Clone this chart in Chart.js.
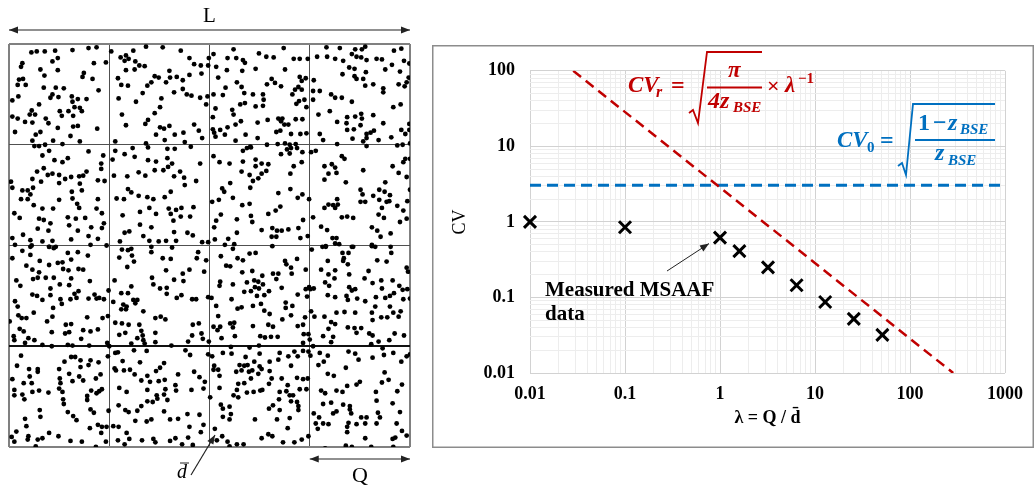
<!DOCTYPE html>
<html>
<head>
<meta charset="utf-8">
<script src="https://cdn.jsdelivr.net/npm/chart.js@4.4.1/dist/chart.umd.min.js"></script>
<style>
  html, body { margin: 0; padding: 0; background: #fff; }
  body { width: 1035px; height: 491px; position: relative; overflow: hidden; }
  #left { position: absolute; left: 0; top: 0; width: 430px; height: 491px; }
  #right { position: absolute; left: 432px; top: 45px; width: 602px; height: 403px; }
</style>
</head>
<body>
<div id="left"><canvas id="grid-chart"></canvas></div>
<div id="right"><canvas id="cv-chart"></canvas></div>
<script>
// ---- right panel data ----
const lambda = [0.01, 0.1, 1, 1.6, 3.2, 6.4, 12.8, 25.6, 51.2];
const cvMeasured = [1.0, 0.85, 0.62, 0.41, 0.25, 0.145, 0.087, 0.052, 0.032];
const lambdaRandom = [0.0285, 285];
const cvRandom = [100, 0.01];
const lambdaFlat = [0.01, 1000];
const cvFlat = [3.05, 3.05];
const xTickLabels = ['0.01', '0.1', '1', '10', '100', '1000'];
const yTickLabels = ['0.01', '0.1', '1', '10', '100'];

// ---- left panel: particle positions, one list per quadrant (0-600 each) ----
const dotsNW = [[67,25],[83,22],[107,22],[138,20],[190,18],[238,12],[262,10],[40,57],[36,68],[130,52],[146,42],[254,57],[290,55],[94,76],[106,94],[146,78],[224,86],[220,98],[30,106],[42,104],[26,122],[50,122],[250,104],[104,130],[140,130],[164,132],[268,138],[130,150],[124,160],[148,158],[188,156],[206,164],[232,164],[28,156],[10,168],[90,180],[190,172],[196,188],[212,190],[218,200],[68,198],[62,210],[78,210],[152,200],[158,214],[178,200],[192,214],[10,216],[26,222],[48,232],[70,234],[110,222],[118,236],[192,246],[206,244],[146,250],[264,252],[18,262],[80,270],[94,262],[184,274],[212,290],[70,288],[132,288],[160,298],[108,300],[90,304],[76,304],
  [306,22],[372,20],[410,8],[460,10],[514,20],[540,42],[598,42],[334,40],[350,34],[358,44],[346,50],[378,52],[390,64],[406,66],[554,60],[574,64],[596,64],[350,78],[376,76],[480,80],[576,88],[436,96],[448,100],[482,100],[502,98],[426,114],[470,114],[520,108],[540,92],[326,102],[336,122],[356,124],[414,124],[400,146],[494,144],[520,134],[532,150],[546,154],[572,160],[594,156],[328,162],[380,172],[456,162],[452,188],[436,206],[338,210],[590,180],[416,226],[408,238],[350,242],[452,248],[464,252],[480,244],[554,240],[440,270],[496,270],[522,264],[568,258],[318,290],[410,296],[466,286],[526,292],[578,280],
  [100,332],[120,318],[238,320],[282,332],[136,346],[160,352],[176,340],[276,356],[104,370],[84,380],[116,390],[130,386],[150,390],[168,402],[186,396],[210,394],[222,392],[232,380],[276,372],[70,402],[96,410],[150,414],[212,416],[266,406],[286,408],[6,410],[10,428],[40,436],[56,436],[72,428],[64,448],[188,440],[218,436],[36,462],[56,462],[74,480],[150,464],[190,460],[204,476],[266,462],[132,490],[100,490],[210,488],[262,490],[16,504],[32,518],[90,520],[104,524],[124,534],[176,516],[200,520],[228,518],[278,504],[284,534],[42,568],[86,550],[118,556],[180,540],[206,556],[246,546],[278,548],[10,578],[64,584],[100,588],[130,586],[186,582],[238,572],[266,580],[18,598],[68,600],[120,604],[140,604],[244,598],[292,600],
  [318,318],[346,328],[370,310],[376,336],[416,308],[474,312],[496,312],[544,306],[310,344],[416,346],[440,350],[474,340],[488,356],[572,356],[436,376],[462,376],[476,366],[314,392],[354,394],[388,382],[408,392],[494,394],[512,380],[524,398],[560,408],[356,432],[366,442],[388,452],[414,456],[432,462],[484,440],[526,420],[322,460],[344,462],[466,456],[420,488],[478,490],[500,494],[516,488],[552,486],[340,510],[392,500],[440,506],[484,506],[514,514],[542,514],[346,562],[360,558],[392,538],[426,546],[492,526],[534,562],[494,560],[402,572],[420,586],[448,588],[470,586],[500,586],[332,588],[550,570],[578,590],[596,590],[488,606]];
const dotsNE = [[72,16],[12,30],[54,42],[80,42],[100,48],[106,56],[148,28],[170,38],[192,40],[222,12],[252,44],[270,44],[294,44],[20,68],[52,78],[98,80],[138,74],[226,76],[26,100],[82,114],[96,128],[104,146],[48,130],[12,150],[40,152],[130,150],[160,150],[162,166],[186,104],[172,120],[196,116],[214,126],[248,150],[270,98],[288,102],[276,110],[266,128],[256,136],[276,136],[284,166],[268,170],[260,178],[290,188],[92,180],[106,176],[138,186],[160,184],[18,192],[68,196],[72,210],[10,218],[78,240],[94,230],[144,234],[174,226],[206,222],[214,230],[218,222],[224,240],[236,240],[258,224],[278,224],[54,248],[32,256],[10,254],[18,276],[46,270],[108,270],[144,280],[200,262],[212,258],[244,268],[272,268],[290,266],[78,288],[122,306],[204,298],[226,296],[240,300],[258,298],[172,300],[14,264],
  [350,10],[390,12],[436,16],[456,16],[466,8],[552,20],[574,14],[322,38],[352,38],[376,44],[400,50],[426,30],[440,38],[454,40],[470,48],[500,44],[516,46],[546,62],[582,50],[598,58],[418,70],[434,74],[398,90],[468,84],[526,76],[570,82],[596,100],[312,108],[330,140],[440,104],[434,96],[460,104],[466,124],[490,120],[520,132],[520,144],[566,120],[584,126],[590,114],[310,140],[310,166],[364,150],[376,160],[426,172],[396,160],[326,210],[360,200],[412,218],[436,216],[454,208],[456,222],[490,212],[550,188],[572,180],[382,232],[410,236],[412,256],[432,254],[452,242],[470,268],[482,264],[492,258],[520,236],[574,256],[598,256],[340,286],[382,298],[428,282],[460,290],[470,280],[506,286],[544,278],[562,302],[578,300],[600,296],[586,268],[598,238],[330,268],[470,304],[318,318],[304,322],
  [12,334],[100,318],[112,310],[124,308],[214,328],[232,314],[244,310],[240,326],[262,310],[278,322],[30,352],[60,356],[100,350],[138,344],[156,356],[176,358],[170,378],[138,364],[96,380],[120,390],[130,408],[146,400],[156,386],[242,386],[276,352],[252,364],[62,414],[38,430],[44,440],[122,428],[242,432],[206,444],[278,448],[264,458],[298,462],[70,458],[28,464],[8,470],[98,480],[120,476],[212,484],[34,508],[124,512],[176,506],[198,496],[20,526],[82,522],[128,530],[280,524],[14,546],[82,562],[156,554],[188,548],[202,556],[216,556],[236,552],[266,548],[186,574],[200,574],[16,582],[56,580],[46,598],[74,596],[272,578],[294,572],
  [396,334],[404,342],[344,364],[366,358],[376,368],[356,386],[344,404],[380,384],[460,376],[408,412],[548,364],[586,342],[580,352],[566,384],[590,396],[600,342],[526,412],[452,434],[458,448],[466,470],[508,434],[524,440],[540,450],[600,434],[310,516],[344,488],[356,478],[370,480],[382,462],[384,478],[376,488],[452,470],[490,452],[508,464],[530,470],[516,488],[538,468],[562,482],[580,496],[592,468],[396,516],[412,514],[430,518],[506,508],[522,518],[570,530],[590,520],[334,544],[352,554],[486,546],[502,556],[512,574],[542,564],[368,578],[380,578],[376,594],[388,596],[348,604],[430,604],[486,598],[496,604]];
const dotsSW = [[40,16],[64,4],[120,4],[134,8],[176,22],[206,20],[236,30],[10,38],[64,28],[92,46],[52,60],[70,72],[90,80],[120,58],[146,52],[160,50],[162,70],[178,74],[186,42],[208,70],[222,72],[72,100],[86,96],[110,96],[134,96],[186,98],[22,104],[34,120],[242,106],[124,128],[152,116],[180,118],[70,146],[84,150],[124,148],[208,136],[196,144],[202,156],[256,146],[262,158],[284,160],[298,134],[100,162],[18,166],[26,182],[154,160],[158,174],[184,160],[238,158],[270,156],[132,186],[28,208],[38,216],[52,216],[74,200],[130,212],[234,214],[280,216],[296,210],[2,226],[114,226],[170,236],[186,234],[32,248],[44,256],[128,258],[168,262],[180,258],[222,252],[244,256],[266,250],[14,270],[16,282],[58,276],[48,290],[76,282],[100,296],[128,300],[176,296],[190,298],[216,278],[240,298],[294,290],[300,300],
  [338,12],[356,14],[366,10],[426,4],[426,20],[330,36],[368,30],[374,48],[460,38],[484,40],[566,20],[562,38],[590,44],[354,64],[470,74],[520,84],[540,72],[584,78],[428,96],[494,102],[522,106],[316,104],[432,116],[336,142],[356,142],[366,122],[452,128],[472,126],[472,144],[502,156],[516,148],[548,160],[560,160],[596,154],[312,168],[342,176],[352,182],[372,162],[384,162],[378,172],[336,190],[350,190],[402,196],[438,216],[454,212],[468,220],[318,230],[338,232],[358,236],[390,236],[396,254],[400,268],[402,282],[406,292],[550,236],[568,232],[548,268],[576,262],[580,278],[598,286],[330,266],[348,260],[384,276],[438,260],[366,292],[438,288],[486,298],[536,286],
  [36,328],[186,332],[198,332],[166,346],[214,342],[244,342],[268,348],[296,330],[24,358],[60,368],[86,368],[86,376],[150,368],[180,382],[214,362],[238,356],[62,390],[210,390],[10,398],[44,410],[68,410],[152,396],[190,404],[222,402],[260,396],[274,384],[16,430],[70,436],[90,432],[118,438],[154,410],[150,426],[160,436],[246,432],[270,434],[40,444],[16,446],[234,448],[234,460],[262,440],[278,428],[46,458],[162,458],[164,472],[176,496],[92,490],[244,488],[254,498],[298,492],[94,510],[192,508],[202,520],[48,516],[52,538],[266,534],[278,540],[292,540],[22,554],[58,568],[86,578],[100,574],[120,558],[148,568],[242,544],[276,558],[8,570],[16,584],[56,578],[80,598],[184,582],[218,584],[260,600],[290,584],
  [318,320],[326,318],[374,312],[412,314],[528,312],[542,326],[596,324],[340,344],[392,348],[464,350],[452,364],[316,366],[320,372],[344,372],[362,370],[376,384],[414,388],[440,374],[506,384],[554,376],[570,392],[586,406],[330,424],[352,436],[396,402],[422,406],[448,404],[466,400],[498,416],[414,430],[442,446],[464,444],[468,428],[444,456],[474,460],[500,432],[546,430],[414,464],[430,466],[582,426],[384,492],[328,476],[348,490],[358,496],[396,478],[426,518],[464,494],[482,518],[506,516],[534,502],[570,504],[378,522],[412,524],[328,540],[352,558],[540,540],[582,534],[574,556],[312,538],[326,580],[346,592],[360,576],[398,580],[432,576],[438,586],[482,582],[498,574],[518,592],[536,572],[550,594]];
const dotsSE = [[70,10],[120,24],[138,22],[188,2],[34,32],[84,38],[100,44],[50,60],[62,62],[226,46],[262,40],[230,56],[244,66],[246,84],[288,72],[98,80],[128,76],[158,90],[190,84],[206,84],[200,100],[32,108],[30,120],[70,116],[112,110],[134,104],[146,108],[160,116],[136,124],[148,128],[178,136],[104,138],[124,136],[142,150],[164,148],[216,126],[298,124],[288,130],[264,146],[292,152],[6,156],[66,160],[130,180],[154,174],[228,170],[228,186],[248,180],[96,184],[84,188],[20,180],[164,194],[180,204],[244,208],[218,220],[26,210],[286,214],[62,232],[74,230],[70,244],[12,242],[32,242],[24,252],[36,276],[76,270],[130,240],[176,236],[190,242],[264,240],[280,236],[152,270],[166,274],[184,272],[204,272],[148,298],[282,264],[296,264],[300,280],[280,290],[64,302],[120,304],
  [306,12],[338,4],[348,2],[398,22],[402,38],[416,22],[426,4],[486,2],[542,4],[544,22],[354,46],[400,46],[414,56],[418,86],[476,76],[502,44],[530,48],[590,66],[594,78],[334,72],[356,86],[376,74],[374,98],[464,98],[514,104],[516,128],[548,104],[302,130],[346,110],[358,120],[418,124],[426,134],[436,130],[488,112],[568,120],[578,132],[592,130],[312,128],[354,148],[376,154],[410,150],[414,162],[442,158],[498,154],[526,156],[540,150],[552,142],[580,160],[600,158],[466,166],[496,182],[540,182],[304,196],[314,212],[344,212],[380,200],[404,198],[436,200],[486,200],[550,200],[572,196],[364,228],[356,248],[376,234],[414,244],[434,246],[454,246],[488,222],[514,214],[532,214],[566,212],[340,270],[370,272],[364,288],[440,260],[478,262],[488,268],[484,294],[506,286],[518,306],[538,282],[554,262],[582,268],[310,300],
  [8,330],[40,320],[66,322],[150,322],[210,320],[254,316],[264,330],[280,314],[296,316],[108,332],[134,346],[180,346],[206,340],[236,330],[14,358],[90,356],[104,358],[114,356],[118,376],[150,360],[156,368],[244,358],[12,370],[26,370],[30,388],[80,376],[96,372],[128,372],[146,382],[180,374],[186,396],[216,396],[262,394],[280,398],[294,396],[124,396],[104,410],[86,412],[178,412],[234,416],[30,424],[82,430],[72,446],[112,438],[132,436],[152,432],[158,430],[210,436],[230,434],[240,446],[250,446],[270,428],[290,428],[2,452],[34,474],[40,486],[60,480],[86,452],[190,476],[208,458],[178,486],[210,490],[244,464],[262,466],[266,478],[40,510],[60,518],[64,502],[136,518],[202,518],[266,490],[240,514],[16,546],[234,544],[38,568],[22,580],[54,584],[156,574],[176,562],[188,568],[220,586],[254,586],[276,578],[296,568],[82,592],[102,592],[60,598],
  [330,320],[354,328],[342,346],[326,356],[416,316],[436,322],[446,340],[488,334],[522,326],[550,320],[574,346],[590,330],[600,324],[302,328],[354,382],[372,388],[408,364],[412,418],[440,414],[450,406],[524,378],[536,400],[576,414],[334,432],[346,440],[380,432],[398,436],[498,436],[516,408],[340,472],[364,468],[400,474],[420,478],[500,462],[548,470],[312,500],[328,512],[370,500],[380,494],[420,488],[424,500],[416,528],[454,512],[470,512],[504,498],[562,434],[412,540],[440,532],[466,530],[500,530],[510,512],[560,530],[570,496],[576,552],[590,566],[318,530],[324,546],[340,530],[356,532],[412,556],[466,574],[548,576],[556,572],[346,604],[408,596],[426,600],[484,600],[550,600]];

Chart.defaults.font.family = '"Liberation Serif", "Times New Roman", serif';
Chart.defaults.color = '#000';

const red = '#c00000';
const blue = '#0070c0';

function placeDots(list, dx, dy) {
  return list.map(p => ({ x: p[0] + dx, y: p[1] + dy }));
}
const allDots = [].concat(
  placeDots(dotsNW, 0, 0), placeDots(dotsNE, 600, 0),
  placeDots(dotsSW, 0, 600), placeDots(dotsSE, 600, 600));

function arrowHead(ctx, fx, fy, tx, ty, len, half) {
  const a = Math.atan2(ty - fy, tx - fx);
  const bx = tx - len * Math.cos(a), by = ty - len * Math.sin(a);
  ctx.beginPath();
  ctx.moveTo(tx, ty);
  ctx.lineTo(bx + half * Math.sin(a), by - half * Math.cos(a));
  ctx.lineTo(bx - half * Math.sin(a), by + half * Math.cos(a));
  ctx.closePath();
  ctx.fill();
}
function arrowLine(ctx, fx, fy, tx, ty, both) {
  ctx.beginPath(); ctx.moveTo(fx, fy); ctx.lineTo(tx, ty); ctx.stroke();
  arrowHead(ctx, fx, fy, tx, ty, 9, 3.5);
  if (both) arrowHead(ctx, tx, ty, fx, fy, 9, 3.5);
}

// L, Q and d-bar labels around the sampling grid
const sketchLabels = {
  id: 'sketchLabels',
  afterDraw(chart) {
    const ctx = chart.ctx, a = chart.chartArea, xs = chart.scales.x;
    ctx.save();
    ctx.strokeStyle = '#222'; ctx.fillStyle = '#222'; ctx.lineWidth = 1.2;
    arrowLine(ctx, a.left, 30, a.right, 30, true);
    const q0 = xs.getPixelForValue(900);
    arrowLine(ctx, q0, a.bottom + 12, a.right, a.bottom + 12, true);
    arrowLine(ctx, 191, 475, 215, 435, false);
    ctx.fillStyle = '#000';
    ctx.font = '21px "Liberation Serif"';
    ctx.textAlign = 'center'; ctx.textBaseline = 'middle';
    ctx.fillText('L', (a.left + a.right) / 2, 16);
    ctx.font = '22px "Liberation Serif"';
    ctx.fillText('Q', (q0 + a.right) / 2, 476);
    ctx.font = 'italic 20px "Liberation Serif"';
    ctx.textAlign = 'left'; ctx.textBaseline = 'alphabetic';
    ctx.fillText('d', 177, 478);
    ctx.lineWidth = 1;
    ctx.beginPath(); ctx.moveTo(180, 463); ctx.lineTo(189, 463); ctx.stroke();
    ctx.restore();
  }
};

function gridColor(v, horizontal) {
  if (v === 0 || v === 1200) return '#808080';
  if (horizontal && v === 900) return '#111';
  return '#505050';
}
function gridWidth(v, horizontal) {
  if (v === 0 || v === 1200) return 2;
  if (horizontal && v === 900) return 2;
  return 1;
}

new Chart(document.getElementById('grid-chart'), {
  type: 'scatter',
  data: {
    datasets: [{
      data: allDots,
      pointRadius: 2.4,
      pointHoverRadius: 2.4,
      pointBackgroundColor: '#000',
      pointBorderWidth: 0
    }]
  },
  options: {
    responsive: true,
    maintainAspectRatio: false,
    animation: false,
    events: [],
    layout: { padding: { left: 9, top: 44, right: 20, bottom: 44 } },
    plugins: { legend: { display: false }, tooltip: { enabled: false } },
    scales: {
      x: {
        min: 0, max: 1200,
        ticks: { display: false, stepSize: 300 },
        border: { display: false },
        grid: { drawTicks: false, color: c => gridColor(c.tick.value, false), lineWidth: c => gridWidth(c.tick.value, false) }
      },
      y: {
        min: 0, max: 1200, reverse: true,
        ticks: { display: false, stepSize: 300 },
        border: { display: false },
        grid: { drawTicks: false, color: c => gridColor(c.tick.value, true), lineWidth: c => gridWidth(c.tick.value, true) }
      }
    }
  },
  plugins: [sketchLabels]
});

// ---- right panel ----
function logGrid(labels) {
  const out = [];
  labels.forEach((lab, i) => {
    const v = Number(lab);
    out.push({ value: v, label: lab, major: true });
    if (i < labels.length - 1) {
      for (let k = 2; k <= 9; k++) out.push({ value: v * k, label: '', major: false });
    }
  });
  return out;
}
const xGrid = logGrid(xTickLabels);
const yGrid = logGrid(yTickLabels);

function put(ctx, s, px, py, size, color, style) {
  ctx.font = (style || 'bold italic') + ' ' + size + 'px "Liberation Serif"';
  ctx.fillStyle = color;
  ctx.textAlign = 'left';
  ctx.textBaseline = 'alphabetic';
  ctx.fillText(s, px, py);
}
function poly(ctx, pts, color, w) {
  ctx.strokeStyle = color; ctx.lineWidth = w;
  ctx.beginPath();
  pts.forEach((p, i) => i ? ctx.lineTo(p[0], p[1]) : ctx.moveTo(p[0], p[1]));
  ctx.stroke();
}

const cvAnnotations = {
  id: 'cvAnnotations',
  afterDraw(chart) {
    const ctx = chart.ctx, xs = chart.scales.x, ys = chart.scales.y;
    ctx.save();
    ctx.strokeStyle = '#8c8c8c'; ctx.lineWidth = 1.5;
    ctx.strokeRect(0.75, 0.75, chart.width - 1.5, chart.height - 1.5);

    // measured data note
    put(ctx, 'Measured MSAAF', 113, 251, 21, '#000', 'bold');
    put(ctx, 'data', 113, 275, 21, '#000', 'bold');
    const px = xs.getPixelForValue(lambda[2]), py = ys.getPixelForValue(cvMeasured[2]);
    ctx.strokeStyle = '#222'; ctx.fillStyle = '#222'; ctx.lineWidth = 1;
    arrowLine(ctx, 235, 226, px - 11, py + 6, false);

    // CV_r formula
    put(ctx, 'CV', 196, 47, 23, red);
    put(ctx, 'r', 224, 52, 16, red);
    put(ctx, '=', 239, 48, 24, red, 'bold');
    poly(ctx, [[257, 68], [261, 65], [266, 78], [275, 7], [330, 7]], red, 1.8);
    put(ctx, 'π', 296, 32, 23, red);
    poly(ctx, [[275, 42.5], [330, 42.5]], red, 2);
    put(ctx, '4z', 276, 63, 24, red);
    put(ctx, 'BSE', 301, 67, 15, red);
    put(ctx, '×', 335, 48, 22, red, 'bold');
    put(ctx, 'λ', 353, 47, 23, red);
    put(ctx, '−1', 366, 38, 15, red, 'bold');

    // CV_0 formula
    put(ctx, 'CV', 405, 102, 23, blue);
    put(ctx, '0', 435, 107, 15, blue, 'bold');
    put(ctx, '=', 448, 103, 24, blue, 'bold');
    poly(ctx, [[466, 121], [470, 118], [474, 130], [481, 59], [563, 59]], blue, 1.8);
    put(ctx, '1', 486, 85, 24, blue, 'bold');
    put(ctx, '−', 501, 85, 24, blue, 'bold');
    put(ctx, 'z', 516, 85, 24, blue);
    put(ctx, 'BSE', 528, 89, 15, blue);
    poly(ctx, [[483, 95], [563, 95]], blue, 2);
    put(ctx, 'z', 503, 115, 24, blue);
    put(ctx, 'BSE', 516, 120, 15, blue);
    ctx.restore();
  }
};

new Chart(document.getElementById('cv-chart'), {
  type: 'scatter',
  data: {
    datasets: [
      {
        label: 'Measured MSAAF data',
        data: lambda.map((l, i) => ({ x: l, y: cvMeasured[i] })),
        showLine: false,
        clip: false,
        pointStyle: 'crossRot',
        pointRadius: 8.5,
        pointHoverRadius: 8.5,
        pointBorderWidth: 3,
        borderColor: '#000',
        backgroundColor: '#000'
      },
      {
        label: 'CVr',
        data: lambdaRandom.map((l, i) => ({ x: l, y: cvRandom[i] })),
        showLine: true,
        borderColor: red,
        borderWidth: 2.5,
        borderDash: [10, 6],
        pointRadius: 0
      },
      {
        label: 'CV0',
        data: lambdaFlat.map((l, i) => ({ x: l, y: cvFlat[i] })),
        showLine: true,
        borderColor: blue,
        borderWidth: 3,
        borderDash: [11, 6],
        pointRadius: 0
      }
    ]
  },
  options: {
    responsive: true,
    maintainAspectRatio: false,
    animation: false,
    events: [],
    layout: { padding: { left: 0, top: 16, right: 25, bottom: 0 } },
    plugins: { legend: { display: false }, tooltip: { enabled: false } },
    scales: {
      x: {
        type: 'logarithmic',
        min: 0.01, max: 1000,
        afterBuildTicks: s => { s.ticks = xGrid.map(t => ({ value: t.value })); },
        afterFit: s => { s.height = 75; },
        ticks: {
          autoSkip: false, maxRotation: 0, padding: 11,
          font: { size: 18, weight: 'bold' },
          callback: (v, i) => xGrid[i].label
        },
        grid: { drawTicks: false, color: c => (xGrid[c.index] && xGrid[c.index].major) ? '#d2d2d2' : '#ededed' },
        border: { display: false },
        title: { display: true, text: 'λ = Q / d̄', font: { size: 18, weight: 'bold' }, padding: { top: 0, bottom: 19 } }
      },
      y: {
        type: 'logarithmic',
        min: 0.01, max: 100,
        afterBuildTicks: s => { s.ticks = yGrid.map(t => ({ value: t.value })); },
        afterFit: s => { s.width = 98; },
        ticks: {
          autoSkip: false, padding: 15,
          font: { size: 18, weight: 'bold' },
          callback: (v, i) => yGrid[i].label
        },
        grid: { drawTicks: false, color: c => (yGrid[c.index] && yGrid[c.index].major) ? '#d2d2d2' : '#ededed' },
        border: { display: false },
        title: { display: true, text: 'CV', font: { size: 18 }, padding: { top: 17, bottom: 0 } }
      }
    }
  },
  plugins: [cvAnnotations]
});
</script>
</body>
</html>
